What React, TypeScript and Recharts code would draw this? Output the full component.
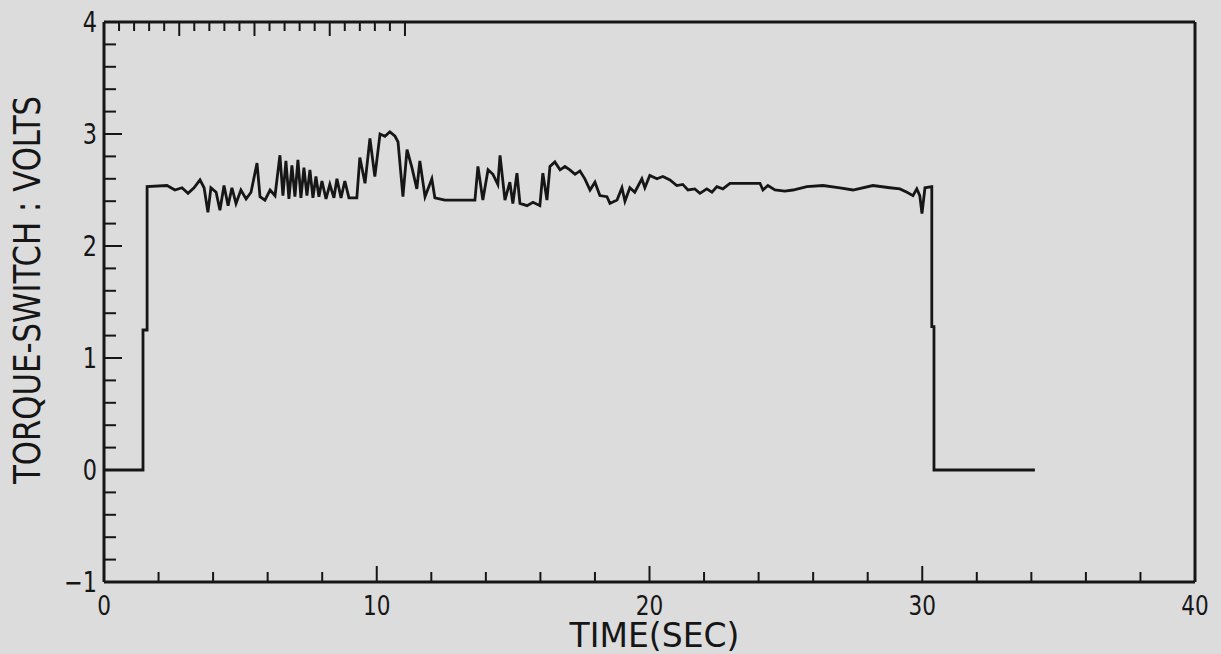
import React from 'react';
import { LineChart, Line, XAxis, YAxis, Label } from 'recharts';

// time (s) and torque-switch voltage
const times = [
  0, 1.43, 1.43, 1.58, 1.58, 2.31, 2.6, 2.86, 3.08, 3.3, 3.52, 3.67, 3.81, 3.92, 4.11, 4.25, 4.4, 4.55, 4.69, 4.84,
  5.02, 5.21, 5.39, 5.61, 5.72, 5.9, 6.09, 6.27, 6.45, 6.56, 6.67, 6.78, 6.89, 7.0, 7.11, 7.22, 7.33, 7.44, 7.55, 7.66,
  7.77, 7.88, 7.99, 8.14, 8.28, 8.43, 8.54, 8.69, 8.83, 8.98, 9.27, 9.38, 9.57, 9.75, 9.93, 10.12, 10.3, 10.48, 10.67, 10.78,
  10.96, 11.11, 11.29, 11.47, 11.58, 11.77, 12.02, 12.13, 12.5, 13.6, 13.71, 13.89, 14.08, 14.26, 14.44, 14.52, 14.7, 14.88, 14.99, 15.14,
  15.25, 15.51, 15.73, 15.98, 16.09, 16.24, 16.35, 16.53, 16.72, 16.9, 17.08, 17.27, 17.45, 17.63, 17.82, 18.0, 18.18, 18.44, 18.55, 18.81,
  18.99, 19.1, 19.28, 19.46, 19.72, 19.83, 20.01, 20.27, 20.49, 20.75, 21.0, 21.22, 21.41, 21.66, 21.85, 22.1, 22.29, 22.47, 22.69, 22.95,
  23.31, 23.68, 24.05, 24.16, 24.34, 24.6, 24.96, 25.26, 25.77, 26.36, 26.98, 27.46, 28.19, 28.81, 29.18, 29.44, 29.66, 29.8, 29.91, 29.99,
  30.1, 30.35, 30.35, 30.43, 30.43, 34.13,
];
const volts = [
  0, 0, 1.25, 1.25, 2.53, 2.54, 2.5, 2.52, 2.47, 2.52, 2.59, 2.52, 2.3, 2.52, 2.48, 2.32, 2.54, 2.36, 2.52, 2.38,
  2.5, 2.42, 2.48, 2.74, 2.44, 2.41, 2.5, 2.45, 2.81, 2.45, 2.76, 2.42, 2.72, 2.44, 2.77, 2.43, 2.7, 2.45, 2.68, 2.43,
  2.62, 2.44, 2.58, 2.42, 2.55, 2.43, 2.6, 2.43, 2.58, 2.43, 2.43, 2.79, 2.56, 2.96, 2.62, 3.0, 2.98, 3.02, 2.98, 2.93,
  2.44, 2.86, 2.7, 2.51, 2.76, 2.44, 2.6, 2.43, 2.41, 2.41, 2.71, 2.41, 2.68, 2.64, 2.55, 2.81, 2.41, 2.57, 2.38, 2.65,
  2.38, 2.36, 2.39, 2.36, 2.65, 2.41, 2.71, 2.75, 2.68, 2.71, 2.68, 2.64, 2.67, 2.6, 2.5, 2.57, 2.45, 2.44, 2.38, 2.41,
  2.52, 2.4, 2.52, 2.48, 2.6, 2.52, 2.63, 2.6, 2.62, 2.59, 2.54, 2.55, 2.5, 2.51, 2.47, 2.51, 2.48, 2.53, 2.51, 2.56,
  2.56, 2.56, 2.56, 2.5, 2.54, 2.5, 2.49, 2.5, 2.53, 2.54, 2.52, 2.5, 2.54, 2.52, 2.51, 2.48, 2.45, 2.51, 2.45, 2.29,
  2.52, 2.53, 1.28, 1.28, 0, 0,
];

const xTicks = [0, 2, 4, 6, 8, 10, 12, 14, 16, 18, 20, 22, 24, 26, 28, 30, 32, 34, 36, 38, 40];
const xLabels = [0, 10, 20, 30, 40];
const yTicks = [
  -1, -0.8, -0.6, -0.4, -0.2, 0, 0.2, 0.4, 0.6, 0.8, 1, 1.2, 1.4, 1.6, 1.8, 2, 2.2, 2.4, 2.6, 2.8,
  3, 3.2, 3.4, 3.6, 3.8, 4,
];
const yLabels = [-1, 0, 1, 2, 3, 4];

const data = times.map((t, i) => ({ t, v: volts[i] }));

const INK = '#161616';
const FONT = '"DejaVu Sans", sans-serif';

// plotter lettering is tall and narrow: squeeze DejaVu horizontally
const NarrowText = ({ x, y, anchor, size, children }: any) => (
  <text
    transform={`translate(${x},${y}) scale(0.8,1)`}
    textAnchor={anchor}
    fontSize={size}
    fontFamily={FONT}
    fill={INK}
  >
    {children}
  </text>
);

const BottomTick = (props: any) => {
  const { x, y, payload } = props;
  const major = xLabels.includes(payload.value);
  return (
    <g>
      <line x1={x} x2={x} y1={y} y2={y - (major ? 16 : 10)} stroke={INK} strokeWidth={2} />
      {major && (
        <NarrowText x={x} y={y + 33} anchor="middle" size={27}>
          {payload.value}
        </NarrowText>
      )}
    </g>
  );
};

const TopTick = (props: any) => {
  const { x, y, payload } = props;
  const major = xLabels.includes(payload.value);
  return <line x1={x} x2={x} y1={y} y2={y + (major ? 14 : 9)} stroke={INK} strokeWidth={2} />;
};

const LeftTick = (props: any) => {
  const { x, y, payload } = props;
  const major = yLabels.includes(payload.value);
  return (
    <g>
      <line x1={x} x2={x + (major ? 18 : 12)} y1={y} y2={y} stroke={INK} strokeWidth={2} />
      {major && (
        <NarrowText x={x - 7} y={y + 10} anchor="end" size={28}>
          {payload.value === -1 ? '\u22121' : payload.value}
        </NarrowText>
      )}
    </g>
  );
};

const RightTick = (props: any) => {
  const { x, y, payload } = props;
  const major = yLabels.includes(payload.value);
  return <line x1={x} x2={x - (major ? 16 : 10)} y1={y} y2={y} stroke={INK} strokeWidth={2} />;
};

const XTitle = (props: any) => {
  const { viewBox } = props;
  const cx = viewBox.x + viewBox.width / 2 + 5;
  return (
    <text x={cx} y={647} textAnchor="middle" fontSize={33} fontFamily={FONT} fill={INK}>
      TIME(SEC)
    </text>
  );
};

const YTitle = (props: any) => {
  const { viewBox } = props;
  const cy = viewBox.y + viewBox.height / 2 - 12;
  return (
    <text
      transform={`translate(40,${cy}) rotate(-90) scale(0.81,1)`}
      textAnchor="middle"
      fontSize={38}
      fontFamily={FONT}
      fill={INK}
    >
      TORQUE-SWITCH : VOLTS
    </text>
  );
};

export default function App() {
  return (
    <div style={{ position: 'absolute', left: 0, top: 0, width: 1221, height: 654, background: '#dcdcdc' }}>
      <LineChart width={1221} height={654} data={data} margin={{ top: 21, right: 25, bottom: 0, left: 0 }}>
        <XAxis
          dataKey="t"
          type="number"
          domain={[0, 40]}
          ticks={xTicks}
          interval={0}
          height={72}
          tickSize={0}
          tickMargin={0}
          tick={<BottomTick />}
          axisLine={{ stroke: INK, strokeWidth: 3 }}
          tickLine={false}
        >
          <Label content={<XTitle />} />
        </XAxis>
        <XAxis
          xAxisId="top"
          orientation="top"
          type="number"
          domain={[0, 40]}
          ticks={xTicks}
          interval={0}
          height={1}
          tickSize={0}
          tickMargin={0}
          tick={<TopTick />}
          axisLine={{ stroke: INK, strokeWidth: 3 }}
          tickLine={false}
        />
        <YAxis
          type="number"
          domain={[-1, 4]}
          ticks={yTicks}
          interval={0}
          width={104}
          tickSize={0}
          tickMargin={0}
          tick={<LeftTick />}
          axisLine={{ stroke: INK, strokeWidth: 3 }}
          tickLine={false}
        >
          <Label content={<YTitle />} />
        </YAxis>
        <YAxis
          yAxisId="right"
          orientation="right"
          type="number"
          domain={[-1, 4]}
          ticks={yTicks}
          interval={0}
          width={1}
          tickSize={0}
          tickMargin={0}
          tick={<RightTick />}
          axisLine={{ stroke: INK, strokeWidth: 3 }}
          tickLine={false}
        />
        <Line
          type="linear"
          dataKey="v"
          stroke={INK}
          strokeWidth={2.8}
          dot={false}
          isAnimationActive={false}
        />
      </LineChart>
    </div>
  );
}
